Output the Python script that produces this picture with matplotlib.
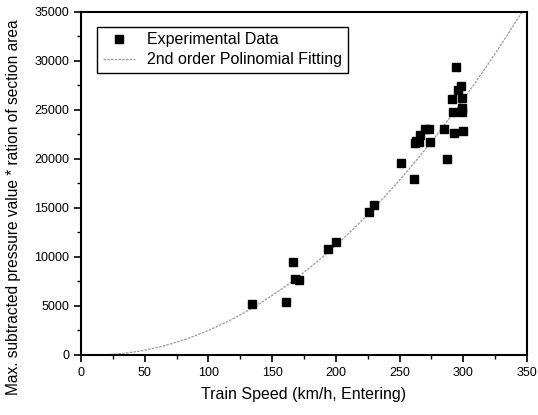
#!/usr/bin/env python3

import matplotlib
matplotlib.use('Agg')
import matplotlib.pyplot as plt
from matplotlib.ticker import MultipleLocator
import numpy as np

plt.rcParams['font.family'] = ['Liberation Sans', 'DejaVu Sans']

# measured points (train speed km/h, pressure * area ratio)
speed = [134, 161, 166, 168, 171, 194, 200, 226, 230, 251,
         261, 262, 263, 265, 266, 270, 273, 274, 285, 287,
         291, 292, 293, 294, 296, 298, 299, 299, 299, 300]
pressure = [5200, 5400, 9500, 7750, 7650, 10850, 11550, 14600, 15300, 19600,
            18000, 21600, 21800, 21700, 22400, 23100, 23100, 21700, 23100, 20000,
            26150, 24750, 22700, 29350, 27050, 27450, 26200, 25200, 24800, 22850]

# 2nd order fit: y = c2*x^2 + c1*x + c0
c2, c1, c0 = 0.31, -6.2, 31.0

fig = plt.figure(figsize=(5.38, 4.15), dpi=100)
ax = fig.add_axes([0.1506, 0.1446, 0.829, 0.8265])

xs = np.linspace(0, 350, 200)
ax.plot(xs, c2 * xs**2 + c1 * xs + c0, color='#9a9a9a', lw=0.9,
        ls=(0, (2, 1)), label='2nd order Polinomial Fitting', zorder=2)
ax.plot(speed, pressure, ls='none', marker='s', ms=5.2, color='black',
        label='Experimental Data', zorder=3)

ax.set_xlim(0, 350)
ax.set_ylim(0, 35000)
ax.xaxis.set_major_locator(MultipleLocator(50))
ax.xaxis.set_minor_locator(MultipleLocator(25))
ax.yaxis.set_major_locator(MultipleLocator(5000))
ax.yaxis.set_minor_locator(MultipleLocator(2500))
ax.tick_params(which='major', direction='out', length=5, width=1.2, labelsize=9)
ax.tick_params(which='minor', direction='out', length=3, width=1.0)
for s in ax.spines.values():
    s.set_linewidth(1.5)

ax.set_xlabel('Train Speed (km/h, Entering)', fontsize=11.5, labelpad=6)
ax.set_ylabel('Max. subtracted pressure value * ration of section area', fontsize=11.2)
# label sits lower than the axes centre in the original
ax.yaxis.set_label_coords(-0.135, 0.43)

h, l = ax.get_legend_handles_labels()
leg = ax.legend(h[::-1], l[::-1], loc='upper left', bbox_to_anchor=(0.036, 0.957),
                borderaxespad=0, fancybox=False, edgecolor='black', fontsize=11.5,
                handlelength=2.0, handletextpad=0.8, borderpad=0.35,
                labelspacing=0.3, framealpha=1)
leg.get_frame().set_linewidth(1.0)

fig.savefig('out.png', dpi=100)
